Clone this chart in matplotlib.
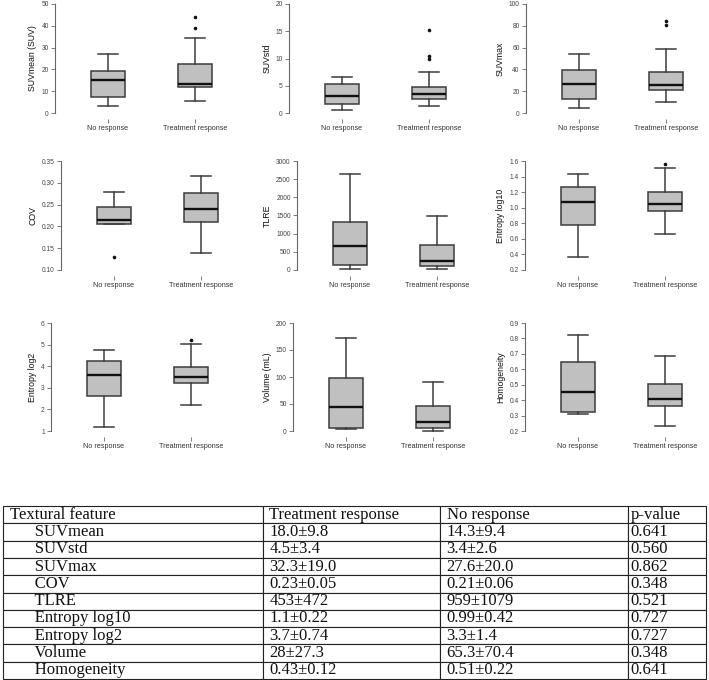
import matplotlib
matplotlib.use("Agg")
import matplotlib.pyplot as plt

# ---------------- data ----------------
groups = ["No response", "Treatment response"]
ylabels = ["SUVmean (SUV)", "SUVstd", "SUVmax", "COV", "TLRE",
           "Entropy log10", "Entropy log2", "Volume (mL)", "Homogeneity"]

# [whislo, q1, median, q3, whishi]
no_resp_stats = [
    [3.2, 7.5, 15.1, 19.1, 27.2],
    [0.5, 1.6, 3.1, 5.3, 6.6],
    [4.6, 13.1, 26.9, 39.8, 54.4],
    [0.205, 0.205, 0.214, 0.244, 0.279],
    [27, 128, 666, 1331, 2644],
    [0.370, 0.783, 1.077, 1.264, 1.430],
    [1.2, 2.60, 3.61, 4.24, 4.74],
    [4.5, 5.1, 44.2, 98.8, 172.4],
    [0.309, 0.326, 0.452, 0.645, 0.825],
]
no_resp_fliers = [[], [], [], [0.130], [], [], [], [], []]

treat_stats = [
    [5.4, 11.9, 13.5, 22.3, 34.6],
    [1.2, 2.6, 3.4, 4.7, 7.6],
    [10.1, 21.1, 25.4, 37.3, 59.0],
    [0.138, 0.210, 0.239, 0.276, 0.315],
    [18, 100, 246, 693, 1486],
    [0.668, 0.962, 1.051, 1.196, 1.506],
    [2.22, 3.20, 3.50, 3.98, 5.05],
    [0.6, 5.8, 16.7, 46.6, 91.4],
    [0.233, 0.363, 0.410, 0.504, 0.688],
]
treat_fliers = [[43.9, 38.8], [15.3, 10.5, 10.0], [84.4, 80.4], [], [], [1.557], [5.2], [], []]

yticks = [
    [0, 10, 20, 30, 40, 50],
    [0, 5, 10, 15, 20],
    [0, 20, 40, 60, 80, 100],
    [0.10, 0.15, 0.20, 0.25, 0.30, 0.35],
    [0, 500, 1000, 1500, 2000, 2500, 3000],
    [0.2, 0.4, 0.6, 0.8, 1.0, 1.2, 1.4, 1.6],
    [1, 2, 3, 4, 5, 6],
    [0, 50, 100, 150, 200],
    [0.2, 0.3, 0.4, 0.5, 0.6, 0.7, 0.8, 0.9],
]
ytick_labels = [
    ["0", "10", "20", "30", "40", "50"],
    ["0", "5", "10", "15", "20"],
    ["0", "20", "40", "60", "80", "100"],
    ["0.10", "0.15", "0.20", "0.25", "0.30", "0.35"],
    ["0", "500", "1000", "1500", "2000", "2500", "3000"],
    ["0.2", "0.4", "0.6", "0.8", "1.0", "1.2", "1.4", "1.6"],
    ["1", "2", "3", "4", "5", "6"],
    ["0", "50", "100", "150", "200"],
    ["0.2", "0.3", "0.4", "0.5", "0.6", "0.7", "0.8", "0.9"],
]

table_header = ["Textural feature", "Treatment response", "No response", "p-value"]
table_features = ["SUVmean", "SUVstd", "SUVmax", "COV", "TLRE",
                  "Entropy log10", "Entropy log2", "Volume", "Homogeneity"]
table_treat = ["18.0\u00b19.8", "4.5\u00b13.4", "32.3\u00b119.0", "0.23\u00b10.05",
               "453\u00b1472", "1.1\u00b10.22", "3.7\u00b10.74", "28\u00b127.3", "0.43\u00b10.12"]
table_noresp = ["14.3\u00b19.4", "3.4\u00b12.6", "27.6\u00b120.0", "0.21\u00b10.06",
                "959\u00b11079", "0.99\u00b10.42", "3.3\u00b11.4", "65.3\u00b170.4", "0.51\u00b10.22"]
table_p = ["0.641", "0.560", "0.862", "0.348", "0.521", "0.727", "0.727", "0.348", "0.641"]

# ---------------- layout ----------------
W, H = 709, 680
fig = plt.figure(figsize=(W / 100, H / 100), dpi=100)
fig.patch.set_facecolor("white")

sans = ["Liberation Sans", "DejaVu Sans"]
serif = ["Liberation Serif", "DejaVu Serif"]

row_top = [4, 161, 323]
row_h = [109, 109, 108]
spine_x = [[55, 289, 526], [61, 297, 525], [51, 293, 525]]
unit = 87.0
x0 = 1 - 53 / unit
x1 = 2.6


def px_axes(x, ytop, w, h):
    return fig.add_axes([x / W, 1 - (ytop + h) / H, w / W, h / H])


edge = "#3c3c3c"
for i in range(9):
    r, c = divmod(i, 3)
    ax = px_axes(spine_x[r][c], row_top[r], (x1 - x0) * unit, row_h[r])
    for sp in ("top", "right"):
        ax.spines[sp].set_visible(False)
    ax.spines["bottom"].set_position(("outward", 4))
    ax.spines["bottom"].set_visible(False)
    stats = []
    for s, f, lab in ((no_resp_stats[i], no_resp_fliers[i], groups[0]),
                      (treat_stats[i], treat_fliers[i], groups[1])):
        stats.append(dict(whislo=s[0], q1=s[1], med=s[2], q3=s[3], whishi=s[4],
                          fliers=f, label=lab))
    ax.bxp(stats, positions=[1, 2], widths=0.4, capwidths=0.23, patch_artist=True,
           boxprops=dict(facecolor="#c0c0c0", edgecolor=edge, linewidth=1.1),
           whiskerprops=dict(color=edge, linewidth=1.1),
           capprops=dict(color=edge, linewidth=1.1),
           medianprops=dict(color="#111111", linewidth=1.7),
           flierprops=dict(marker="o", markerfacecolor="#111111", markeredgecolor="#111111",
                           markersize=1.6, linestyle="none"),
           manage_ticks=False)
    ax.set_xlim(x0, x1)
    ax.set_ylim(yticks[i][0], yticks[i][-1])
    ax.set_yticks(yticks[i])
    ax.set_yticklabels(ytick_labels[i], fontsize=4.8, color="#444444", family=sans)
    ax.set_xticks([1, 2])
    ax.set_xticklabels(groups, fontsize=5.2, color="#333333", family=sans)
    ax.spines["left"].set_color("#666666")
    ax.spines["left"].set_linewidth(0.8)
    ax.tick_params(axis="y", direction="out", length=3, width=0.6, color="#666666", pad=1.5)
    ax.tick_params(axis="x", direction="out", length=3, width=0.6, color="#666666", pad=1.5)
    for p in ax.patches:
        p.set_clip_on(False)
    for ln in ax.lines:
        ln.set_clip_on(False)
    ax.set_ylabel(ylabels[i], fontsize=6.3, color="#111111", family=sans, labelpad=3)
    ax.patch.set_alpha(0)

# ---------------- table ----------------
tab_left, tab_right = 3, 706
tab_top, tab_bottom = 506, 679
tax = fig.add_axes([tab_left / W, 1 - tab_bottom / H, (tab_right - tab_left) / W,
                    (tab_bottom - tab_top) / H])
tax.axis("off")
cell_text = [["      " + f, t, n, p] for f, t, n, p in
             zip(table_features, table_treat, table_noresp, table_p)]
col_px = [260, 177, 188, 78]
tot = sum(col_px)
tbl = tax.table(cellText=[table_header] + cell_text,
                colWidths=[c / tot for c in col_px],
                cellLoc="left", loc="center", bbox=[0, 0, 1, 1])
tbl.auto_set_font_size(False)
for (rr, cc), cell in tbl.get_celld().items():
    cell.set_edgecolor("#222222")
    cell.set_linewidth(0.8)
    cell.PAD = 0.035 if cc > 0 else 0.025
    if cc == 3:
        cell.PAD = 0.03
    cell.get_text().set_fontsize(12)
    cell.get_text().set_fontfamily(serif)
    cell.get_text().set_color("#111111")

fig.savefig("out.png", dpi=100, facecolor="white")
